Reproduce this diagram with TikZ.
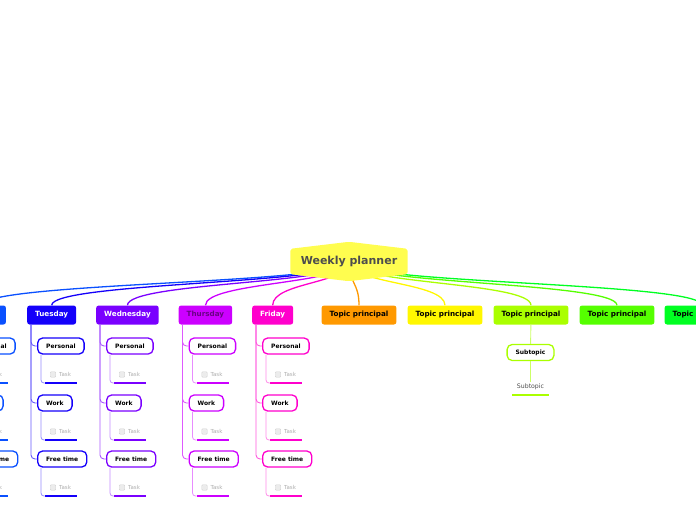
\documentclass[tikz,border=0pt]{standalone}
\usepackage{fontspec}
\setmainfont{DejaVu Sans}
\usetikzlibrary{calc}
\definecolor{rootYellow}{HTML}{FFFD4F}
\definecolor{rootText}{HTML}{4D4D4D}
\definecolor{monBlue}{HTML}{0A50FF}
\definecolor{tueBlue}{HTML}{1400FA}
\definecolor{wedViolet}{HTML}{7A00FF}
\definecolor{thuPurple}{HTML}{CC00FF}
\definecolor{thuText}{HTML}{6A0085}
\definecolor{friPink}{HTML}{FF00CC}
\definecolor{topOrange}{HTML}{FF9900}
\definecolor{topYellow}{HTML}{FFF700}
\definecolor{topLime}{HTML}{AAFF00}
\definecolor{topGreen}{HTML}{55FF00}
\definecolor{topGreenB}{HTML}{00FF22}
\pgfdeclarelayer{background}
\pgfsetlayers{background,main}
\tikzset{
  rootBox/.style={minimum width=117pt, minimum height=39pt, inner sep=0pt, text=rootText, font=\fontsize{11}{13}\selectfont\bfseries},
  dayBox/.style={rounded corners=2.5pt, minimum height=19pt, inner xsep=8pt, inner ysep=0pt, text=white, font=\fontsize{7.2}{8.5}\selectfont\bfseries},
  subBox/.style={draw, fill=white, line width=1.3pt, rounded corners=5pt, minimum height=16pt, inner xsep=8.5pt, inner ysep=0pt, font=\fontsize{6}{7}\selectfont\bfseries},
  taskCheck/.style={draw=gray!35, fill=gray!15, rounded corners=1pt, minimum size=5.5pt, inner sep=0pt},
  taskLabel/.style={text=gray!65, inner xsep=3pt, inner ysep=1pt, font=\fontsize{5.5}{6}\selectfont},
  leafLabel/.style={text=rootText, inner sep=1.5pt, font=\fontsize{6.2}{7}\selectfont},
  taskBar/.style={line width=2.5pt},
  rootLine/.style={line width=1.3pt},
  trunkLine/.style={line width=0.9pt, rounded corners=4pt},
  taskLine/.style={line width=0.8pt, rounded corners=3pt}
}
% one day: name, label, left x, colour, text colour
\newcommand{\dayColumn}[5]{%
  \node[dayBox, fill=#4, text=#5, anchor=west] (#1) at (#3,315) {#2};
  \coordinate (#1Trunk) at (#3+4,324);
  \foreach \subKey/\subLabel/\subY in {Pers/Personal/346, Work/Work/403, Free/Free time/459}{
    \node[subBox, draw=#4, anchor=west] (#1\subKey) at (#3+10,\subY) {\subLabel};
    \draw[trunkLine, draw=#4!65] (#1Trunk) |- (#1\subKey.west);
    \node[taskCheck] (#1\subKey Check) at (#3+26,\subY+28.5) {};
    \node[taskLabel, anchor=west] (#1\subKey Task) at (#1\subKey Check.east) {Task};
    \coordinate (#1\subKey BarL) at (#3+18,\subY+37);
    \coordinate (#1\subKey BarR) at (#3+50,\subY+37);
    \draw[taskBar, draw=#4] (#1\subKey BarL) -- (#1\subKey BarR);
    \draw[taskLine, draw=#4!45] ([xshift=4pt]#1\subKey.south west) |- (#1\subKey BarL);
  }
}
\newcommand{\rootLink}[2]{\draw[rootLine, draw=#2] (root.center) .. controls (rootDip) and (#1.north |- rootLevel) .. (#1.north);}

\begin{document}
\begin{tikzpicture}[x=1pt,y=-1pt]
  \useasboundingbox (0,0) rectangle (696,520);
  \node[rootBox] (root) at (349,261.5) {Weekly planner};
  \coordinate (rootDip) at (349,284);
  \coordinate (rootLevel) at (0,282);

  \dayColumn{mon}{Monday}{-42}{monBlue}{white}
  \dayColumn{tue}{Tuesday}{27}{tueBlue}{white}
  \dayColumn{wed}{Wednesday}{96}{wedViolet}{white}
  \dayColumn{thu}{Thursday}{178.5}{thuPurple}{thuText}
  \dayColumn{fri}{Friday}{252}{friPink}{white}

  \node[dayBox, fill=topOrange, text=black] (topicOrange) at (359,315) {Topic principal};
  \node[dayBox, fill=topYellow, text=black] (topicYellow) at (445,315) {Topic principal};
  \node[dayBox, fill=topLime, text=black] (topicLime) at (531,315) {Topic principal};
  \node[dayBox, fill=topGreen, text=black] (topicGreen) at (617,315) {Topic principal};
  \node[dayBox, fill=topGreenB, text=black] (topicGreenB) at (702,315) {Topic principal};

  \node[subBox, draw=topLime] (limeSub) at (530.5,352.5) {Subtopic};
  \node[leafLabel] (limeLeaf) at (530.5,387) {Subtopic};
  \coordinate (limeLeafBarL) at (512,395);
  \coordinate (limeLeafBarR) at (549,395);
  \draw[trunkLine, draw=topLime!60] (topicLime) -- (limeSub);
  \draw[trunkLine, draw=topLime!60] (limeSub) -- (limeLeaf);
  \draw[taskBar, draw=topLime] (limeLeafBarL) -- (limeLeafBarR);

  \begin{pgfonlayer}{background}
    \rootLink{mon}{monBlue}
    \rootLink{tue}{tueBlue}
    \rootLink{wed}{wedViolet}
    \rootLink{thu}{thuPurple}
    \rootLink{fri}{friPink}
    \rootLink{topicOrange}{topOrange}
    \rootLink{topicYellow}{topYellow}
    \rootLink{topicLime}{topLime}
    \rootLink{topicGreen}{topGreen}
    \rootLink{topicGreenB}{topGreenB}
    \fill[rootYellow, rounded corners=2pt] ([yshift=-7pt]root.north west) -- (root.north) -- ([yshift=-7pt]root.north east)
      -- ([yshift=7pt]root.south east) -- (root.south) -- ([yshift=7pt]root.south west) -- cycle;
  \end{pgfonlayer}
\end{tikzpicture}
\end{document}
